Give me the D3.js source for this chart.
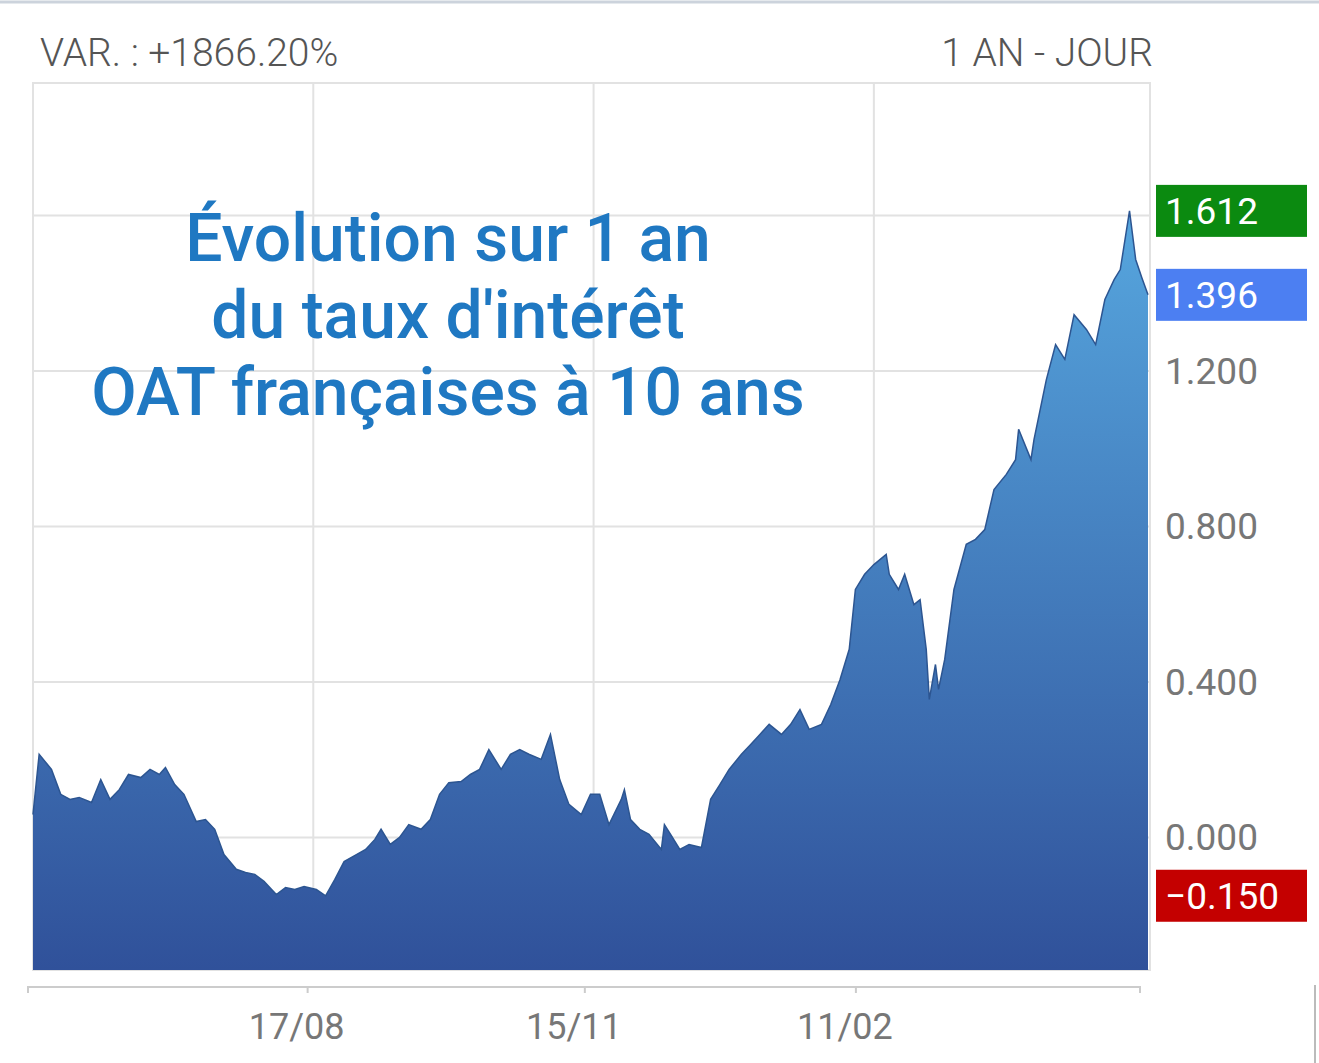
<!DOCTYPE html>
<html>
<head>
<meta charset="utf-8">
<script src="https://cdn.jsdelivr.net/npm/d3@7"></script>
<style>
  body { margin: 0; background: #fff; }
  svg { font-family: Roboto, "Noto Sans", sans-serif; }
</style>
</head>
<body>
<svg id="chart" width="1319" height="1063"></svg>
<script>
// données (jours depuis le 20/05/2021, taux en %)
const startDate = new Date(2021, 4, 20);
const days = [0, 2, 6, 9, 12, 15, 19, 22, 25, 28, 31, 35, 38, 41, 43, 46, 49, 53, 56, 59,
  62, 66, 69, 72, 75, 79, 82, 85, 88, 92, 95, 98, 101, 105, 108, 111, 113, 116, 119, 122,
  126, 129, 132, 135, 139, 142, 145, 148, 152, 155, 158, 161, 165, 168, 171, 174, 178, 181, 184, 187,
  191, 192, 194, 197, 200, 204, 205, 207, 210, 213, 217, 220, 223, 226, 230, 233, 236, 239, 243, 246,
  249, 252, 256, 259, 262, 265, 267, 270, 273, 277, 278, 281, 283, 286, 288, 290, 291, 293, 294, 296,
  299, 303, 306, 309, 312, 316, 319, 320, 324, 325, 329, 332, 335, 338, 342, 345, 348, 351, 353, 356,
  358, 360, 362];
const rates = [0.059, 0.214, 0.175, 0.111, 0.098, 0.103, 0.090, 0.149, 0.098, 0.123, 0.162, 0.154, 0.175, 0.162, 0.180, 0.136, 0.111, 0.041, 0.046, 0.021,
  -0.044, -0.082, -0.090, -0.095, -0.113, -0.147, -0.129, -0.134, -0.126, -0.134, -0.150, -0.108, -0.062, -0.044, -0.031, -0.005, 0.021, -0.018, 0.000, 0.033,
  0.021, 0.046, 0.111, 0.141, 0.144, 0.162, 0.175, 0.226, 0.175, 0.214, 0.226, 0.214, 0.201, 0.265, 0.149, 0.085, 0.059, 0.111, 0.111, 0.033,
  0.098, 0.123, 0.046, 0.021, 0.008, -0.031, 0.033, 0.008, -0.031, -0.018, -0.026, 0.098, 0.136, 0.175, 0.214, 0.239, 0.265, 0.291, 0.265, 0.291,
  0.329, 0.278, 0.291, 0.342, 0.406, 0.484, 0.638, 0.677, 0.702, 0.728, 0.677, 0.638, 0.677, 0.599, 0.612, 0.484, 0.355, 0.445, 0.381, 0.458,
  0.638, 0.754, 0.767, 0.792, 0.895, 0.934, 0.972, 1.050, 0.972, 1.024, 1.178, 1.268, 1.230, 1.345, 1.307, 1.268, 1.384, 1.435, 1.461, 1.612,
  1.487, 1.440, 1.396];
const yTicks = [0, 0.4, 0.8, 1.2];
const gridDates = [new Date(2021, 7, 19), new Date(2021, 10, 18), new Date(2022, 1, 17)];
const tickDates = [new Date(2021, 7, 17), new Date(2021, 10, 15), new Date(2022, 1, 11)];
const badges = [
  { value: 1.612, color: "#0b8a10" },
  { value: 1.396, color: "#4c7ff2" },
  { value: -0.150, color: "#c40000" }
];
const titleLines = ["Évolution sur 1 an", "du taux d'intérêt", "OAT françaises à 10 ans"];

const data = days.map((d, i) => ({ date: d3.timeDay.offset(startDate, d), v: rates[i] }));

const svg = d3.select("#chart");
const pLeft = 33, pRight = 1150, pTop = 83, pBottom = 970;

const x = d3.scaleTime()
  .domain([startDate, d3.timeDay.offset(startDate, 362)])
  .range([pLeft, 1148]);
const y = d3.scaleLinear().domain([-0.341, 1.941]).range([pBottom, pTop]);

// dégradé
const grad = svg.append("defs").append("linearGradient")
  .attr("id", "fill").attr("gradientUnits", "userSpaceOnUse")
  .attr("x1", 0).attr("x2", 0).attr("y1", y(1.612)).attr("y2", pBottom);
grad.append("stop").attr("offset", 0).attr("stop-color", "#56a6de");
grad.append("stop").attr("offset", 1).attr("stop-color", "#30519a");

// cadre et grille
svg.append("line").attr("x1", 0).attr("x2", 1319).attr("y1", 2).attr("y2", 2)
  .attr("stroke", "#ccd3dc").attr("stroke-width", 3);
svg.append("rect").attr("x", pLeft).attr("y", pTop).attr("width", pRight - pLeft).attr("height", pBottom - pTop)
  .attr("fill", "none").attr("stroke", "#e2e2e2").attr("stroke-width", 2);
svg.selectAll(".hgrid").data([...yTicks, 1.6]).enter().append("line")
  .attr("x1", pLeft).attr("x2", pRight).attr("y1", d => y(d)).attr("y2", d => y(d))
  .attr("stroke", "#e2e2e2").attr("stroke-width", 2);
svg.selectAll(".vgrid").data(gridDates).enter().append("line")
  .attr("x1", d => x(d)).attr("x2", d => x(d)).attr("y1", pTop).attr("y2", pBottom)
  .attr("stroke", "#e2e2e2").attr("stroke-width", 2);

// aire
const area = d3.area().x(d => x(d.date)).y0(pBottom).y1(d => y(d.v));
svg.append("path").datum(data).attr("d", area).attr("fill", "url(#fill)");
svg.append("path").datum(data)
  .attr("d", d3.line().x(d => x(d.date)).y(d => y(d.v)))
  .attr("fill", "none").attr("stroke", "#2c5591").attr("stroke-width", 1.5);

// titre
svg.append("text").attr("text-anchor", "middle")
  .attr("fill", "#1f78c2").attr("font-size", 66).attr("font-weight", 500)
  .selectAll("tspan").data(titleLines).enter().append("tspan")
  .attr("x", 448).attr("y", (d, i) => 261 + i * 77).text(d => d);

// en-tête
svg.append("text").attr("x", 40).attr("y", 66).attr("font-size", 39).attr("fill", "#555")
  .attr("font-weight", 300).text("VAR. : +1866.20%");
svg.append("text").attr("x", 1153).attr("y", 66).attr("font-size", 39).attr("fill", "#555")
  .attr("font-weight", 300).attr("text-anchor", "end").text("1 AN - JOUR");

// axe Y à droite
svg.selectAll(".ylab").data(yTicks).enter().append("text")
  .attr("x", 1165).attr("y", d => y(d)).attr("dy", "0.35em")
  .attr("font-size", 37).attr("fill", "#777").text(d => d3.format(".3f")(d));
const b = svg.selectAll(".badge").data(badges).enter().append("g")
  .attr("transform", d => `translate(1156,${y(d.value) - 26})`);
b.append("rect").attr("width", 151).attr("height", 52).attr("fill", d => d.color);
b.append("text").attr("x", 9).attr("y", 26).attr("dy", "0.35em")
  .attr("font-size", 37).attr("fill", "#fff").text(d => d3.format(".3f")(d.value));

// axe X
const xAxis = svg.append("g").attr("transform", "translate(0,987)")
  .call(d3.axisBottom(x).tickValues(tickDates).tickFormat(d3.timeFormat("%d/%m")).tickSize(6).tickSizeOuter(6));
xAxis.select(".domain").attr("stroke", "#ccc").attr("stroke-width", 2)
  .attr("d", "M28,6V0H1140V6");
xAxis.selectAll(".tick line").attr("stroke", "#ccc").attr("stroke-width", 2);
xAxis.selectAll(".tick text").attr("font-size", 36).attr("fill", "#777")
  .attr("y", 26).attr("dy", "0.71em").attr("dx", -11)
  .attr("font-family", "Roboto, sans-serif");
svg.append("line").attr("x1", 1315).attr("x2", 1315).attr("y1", 985).attr("y2", 1063)
  .attr("stroke", "#bbb").attr("stroke-width", 2);
</script>
</body>
</html>
